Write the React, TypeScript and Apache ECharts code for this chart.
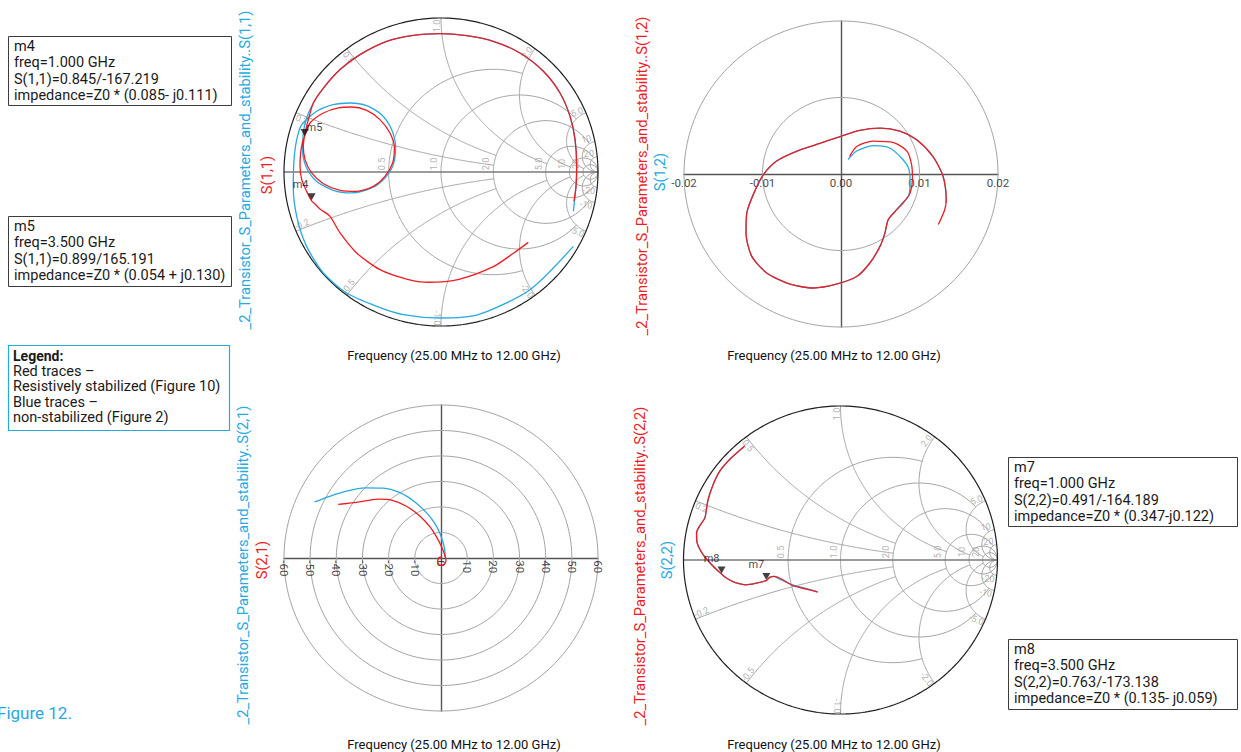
import React, { useEffect, useRef } from "react";
import * as echarts from "echarts";

type P = [number, number];

const RED = "#ee1d23";
const BLUE = "#27a9e1";
const GRID = "#a3a3a3";
const FONT = "Roboto, 'Liberation Sans', sans-serif";

// ---------------- data (reflection coefficients as [re, im]) ----------------
const s11Stabilized: P[] = [
  [0.556, -0.457], [0.461, -0.528], [0.333, -0.615], [0.121, -0.695], [-0.081, -0.716],
  [-0.219, -0.695], [-0.389, -0.634], [-0.537, -0.526], [-0.643, -0.396], [-0.707, -0.288],
  [-0.771, -0.24], [-0.805, -0.205], [-0.824, -0.187], [-0.856, -0.126], [-0.887, -0.05],
  [-0.898, 0.037], [-0.894, 0.123], [-0.881, 0.2], [-0.869, 0.23],
  [-0.834, 0.318], [-0.749, 0.383], [-0.654, 0.416], [-0.569, 0.422], [-0.473, 0.4],
  [-0.389, 0.34], [-0.325, 0.253], [-0.297, 0.156], [-0.308, 0.058], [-0.357, -0.028],
  [-0.431, -0.093], [-0.537, -0.126], [-0.643, -0.119], [-0.749, -0.076], [-0.824, -0.006],
  [-0.866, 0.08], [-0.877, 0.167], [-0.866, 0.253], [-0.845, 0.34],
  [-0.813, 0.448], [-0.749, 0.545], [-0.643, 0.665], [-0.516, 0.762], [-0.346, 0.848],
  [-0.176, 0.887], [-0.006, 0.898], [0.163, 0.885], [0.333, 0.848], [0.503, 0.773],
  [0.652, 0.654], [0.758, 0.513], [0.822, 0.361], [0.854, 0.21], [0.864, 0.037],
  [0.86, -0.093], [0.847, -0.19],
];
const s11NonStabilized: P[] = [
  [0.843, -0.483], [0.567, -0.764], [0.238, -0.926], [-0.006, -0.948], [-0.24, -0.926],
  [-0.41, -0.872], [-0.601, -0.786], [-0.749, -0.656], [-0.856, -0.483], [-0.919, -0.288],
  [-0.941, -0.093], [-0.936, 0.08], [-0.919, 0.21], [-0.887, 0.307],
  [-0.792, 0.394], [-0.686, 0.437], [-0.58, 0.448], [-0.473, 0.431], [-0.378, 0.372],
  [-0.314, 0.275], [-0.289, 0.167], [-0.304, 0.048], [-0.357, -0.039], [-0.442, -0.104],
  [-0.569, -0.136], [-0.686, -0.119], [-0.792, -0.061], [-0.856, 0.026], [-0.881, 0.123],
  [-0.877, 0.253], [-0.856, 0.351],
  [-0.813, 0.448], [-0.749, 0.545], [-0.643, 0.665], [-0.516, 0.762], [-0.346, 0.848],
  [-0.176, 0.887], [-0.006, 0.898], [0.163, 0.885], [0.333, 0.848], [0.503, 0.773],
  [0.652, 0.654], [0.758, 0.513], [0.822, 0.361], [0.854, 0.21], [0.864, 0.037],
  [0.86, -0.093], [0.843, -0.255],
];
const s12Stabilized: P[] = [
  [0.0011, 0.0023], [0.002, 0.0036], [0.0041, 0.0043], [0.0067, 0.0041], [0.0084, 0.003],
  [0.009, 0.0012], [0.0091, -0.0007], [0.0088, -0.0025], [0.0079, -0.0038], [0.0069, -0.0049],
  [0.006, -0.006], [0.0056, -0.0077], [0.005, -0.0094], [0.0037, -0.0116], [0.002, -0.0134],
  [-0.0006, -0.0144], [-0.0035, -0.0149], [-0.0065, -0.0144], [-0.0095, -0.0129], [-0.0114, -0.0107],
  [-0.0121, -0.0077], [-0.012, -0.0051], [-0.0111, -0.0025], [-0.0099, -0.0001], [-0.0082, 0.0017],
  [-0.0056, 0.003], [-0.0027, 0.004], [-0.0001, 0.0049], [0.0024, 0.0057], [0.005, 0.006],
  [0.0075, 0.0056], [0.0096, 0.0045], [0.0117, 0.0023], [0.013, -0.0003], [0.0134, -0.0034],
  [0.0132, -0.0047], [0.0124, -0.0066],
];
const s12NonStabilized: P[] = [
  [0.0009, 0.0019], [0.002, 0.003], [0.0041, 0.0037], [0.0062, 0.0034], [0.0077, 0.0021],
  [0.0086, 0.0008], [0.0088, -0.001], [0.0086, -0.0029], [0.0077, -0.0039], [0.0067, -0.0051],
  [0.006, -0.006], [0.0056, -0.0077], [0.005, -0.0094], [0.0037, -0.0116], [0.002, -0.0134],
  [-0.0006, -0.0144], [-0.0035, -0.0149], [-0.0065, -0.0144], [-0.0095, -0.0129], [-0.0114, -0.0107],
  [-0.0121, -0.0077], [-0.012, -0.0051], [-0.0111, -0.0025], [-0.0099, -0.0001], [-0.0082, 0.0017],
  [-0.0056, 0.003], [-0.0027, 0.004], [-0.0001, 0.0049], [0.0024, 0.0057], [0.005, 0.006],
  [0.0075, 0.0056], [0.0096, 0.0045], [0.0117, 0.0023], [0.013, -0.0003], [0.0134, -0.0034],
  [0.0134, -0.0038],
];
const s21Stabilized: P[] = [
  [-39.3, 21.0], [-32.3, 21.8], [-24.0, 23.1], [-18.9, 22.7], [-13.2, 20.3], [-8.0, 16.4],
  [-4.2, 12.2], [-1.7, 8.3], [0.26, 4.3], [1.5, 1.0], [1.9, -1.2], [1.1, -2.6], [-0.4, -2.8],
  [-1.3, -1.6], [-0.9, 0.0], [0.1, 0.4],
];
const s21NonStabilized: P[] = [
  [-48.3, 22.0], [-42.5, 24.2], [-36.1, 26.2], [-29.1, 27.5], [-22.1, 27.4], [-15.7, 25.6],
  [-10.0, 22.0], [-5.5, 17.7], [-2.3, 13.5], [-0.4, 9.6], [0.9, 5.6], [1.5, 2.4], [1.5, 0.4],
];
const s22Stabilized: P[] = [
  [-0.144, -0.208], [-0.218, -0.189], [-0.303, -0.167], [-0.367, -0.128], [-0.419, -0.106],
  [-0.451, -0.113], [-0.4725, -0.1338], [-0.536, -0.15], [-0.6, -0.161], [-0.674, -0.145],
  [-0.727, -0.117], [-0.7575, -0.0912], [-0.811, -0.041], [-0.875, 0.035], [-0.913, 0.111],
  [-0.917, 0.176], [-0.896, 0.223], [-0.864, 0.273], [-0.854, 0.328], [-0.843, 0.393],
  [-0.811, 0.49], [-0.769, 0.577], [-0.706, 0.653], [-0.61, 0.74],
];
const s22NonStabilized: P[] = [
  [-0.15, -0.206], [-0.229, -0.182], [-0.314, -0.158], [-0.388, -0.124], [-0.426, -0.106],
  [-0.451, -0.113], [-0.4725, -0.1338], [-0.536, -0.15], [-0.6, -0.161], [-0.674, -0.145],
  [-0.727, -0.117], [-0.7575, -0.0912], [-0.811, -0.041], [-0.875, 0.035], [-0.913, 0.111],
  [-0.917, 0.176], [-0.896, 0.223], [-0.864, 0.273], [-0.854, 0.328], [-0.843, 0.393],
  [-0.811, 0.49], [-0.769, 0.577], [-0.706, 0.653], [-0.61, 0.74],
];

const s11Markers = [
  { name: "m4", mag: 0.845, deg: -167.219 },
  { name: "m5", mag: 0.899, deg: 165.191 },
];
const s22Markers = [
  { name: "m7", mag: 0.491, deg: -164.189 },
  { name: "m8", mag: 0.763, deg: -173.138 },
];

const smithResistances = [0.5, 1, 2, 5, 10, 20];
const smithReactances = [0.2, 0.5, 1, 2, 5, 10, 20];
const s12Rings = [0.01, 0.02];
const s12Ticks = [-0.02, -0.01, 0, 0.01, 0.02];
const s21Rings = [10, 20, 30, 40, 50, 60];
const s21Ticks = [-60, -50, -40, -30, -20, -10, 0, 10, 20, 30, 40, 50, 60];

const m4Box = ["m4", "freq=1.000 GHz", "S(1,1)=0.845/-167.219", "impedance=Z0 * (0.085- j0.111)"];
const m5Box = ["m5", "freq=3.500 GHz", "S(1,1)=0.899/165.191", "impedance=Z0 * (0.054 + j0.130)"];
const m7Box = ["m7", "freq=1.000 GHz", "S(2,2)=0.491/-164.189", "impedance=Z0 * (0.347-j0.122)"];
const m8Box = ["m8", "freq=3.500 GHz", "S(2,2)=0.763/-173.138", "impedance=Z0 * (0.135- j0.059)"];
const legendLines = ["Red traces \u2013", "Resistively stabilized (Figure 10)", "Blue traces \u2013", "non-stabilized (Figure 2)"];
const freqLabel = "Frequency (25.00 MHz to 12.00 GHz)";

// --------------- layout helpers ---------------
const rLimit: Record<string, number> = { "0.5": 2, "1": 5, "2": 10, "5": 20, "10": Infinity, "20": Infinity };
const xLimit: Record<string, number> = { "0.2": 2, "0.5": 2, "1": 5, "2": 10, "5": 20, "10": Infinity, "20": Infinity };
const markerLabelOffset: Record<string, number[]> = {
  m4: [-11, -12], m5: [10, -5], m7: [-10, -12], m8: [-10, -12],
};

function gamma(r: number, x: number): P {
  const d = (r + 1) * (r + 1) + x * x;
  return [(r * r + x * x - 1) / d, (2 * x) / d];
}

function gridLine(gi: number, data: P[], color = GRID, width = 1, z = 1) {
  return {
    type: "line", xAxisIndex: gi, yAxisIndex: gi, data, symbol: "none", showSymbol: false,
    silent: true, clip: false, smooth: false, z,
    lineStyle: { color, width },
  };
}

function circle(R: number, n = 240): P[] {
  const pts: P[] = [];
  for (let i = 0; i <= n; i++) {
    const t = (2 * Math.PI * i) / n;
    pts.push([R * Math.cos(t), R * Math.sin(t)]);
  }
  return pts;
}

function smithGrid(gi: number, hw: number, hh: number) {
  const out: any[] = [];
  smithResistances.forEach((r) => {
    const tMax = Math.atan(rLimit[String(r)]);
    const pts: P[] = [];
    const n = 240;
    for (let i = 0; i <= n; i++) {
      const t = -tMax + (2 * tMax * i) / n;
      pts.push(gamma(r, Math.tan(t)));
    }
    out.push(gridLine(gi, pts));
  });
  smithReactances.forEach((x) => {
    [1, -1].forEach((s) => {
      const sMax = Math.atan(xLimit[String(x)]);
      const pts: P[] = [];
      const n = 200;
      for (let i = 0; i <= n; i++) {
        const u = (sMax * i) / n;
        pts.push(gamma(Math.tan(u), s * x));
      }
      out.push(gridLine(gi, pts));
    });
  });
  out.push(gridLine(gi, [[-1, 0], [1, 0]], "#7a7a7a", 1.6, 2));
  out.push(gridLine(gi, circle(1, 360), "#1e1e1e", 1.2, 2));

  const data: any[] = [];
  const shift = (gx: number, gy: number, dx: number, dy: number) => [gx + dx / hw, gy - dy / hh];
  smithResistances.forEach((r) => {
    const gx = (r - 1) / (r + 1);
    data.push({ name: r >= 10 ? String(r) : r.toFixed(1), value: shift(gx, 0, -7, -8), label: { rotate: 90 } });
  });
  smithReactances.forEach((x) => {
    [1, -1].forEach((s) => {
      const th = s * (Math.PI - 2 * Math.atan(x));
      const c = Math.cos(th);
      const sn = Math.sin(th);
      let dx = -c * 8;
      let dy = sn * 8;
      if (s > 0) { dx += -sn * 4; dy += -c * 4; } else { dx += sn * 4; dy += c * 4; }
      let deg = (th * 180) / Math.PI;
      if (deg > 90) deg -= 180;
      if (deg < -90) deg += 180;
      const txt = (s < 0 ? "-" : "") + (x >= 10 ? String(x) : x.toFixed(1));
      data.push({ name: txt, value: shift(c, sn, dx, dy), label: { rotate: deg } });
    });
  });
  out.push({
    type: "scatter", xAxisIndex: gi, yAxisIndex: gi, symbolSize: 1, silent: true, z: 3,
    itemStyle: { color: "rgba(0,0,0,0)" }, data,
    label: {
      show: true, position: "inside", formatter: "{b}", color: "#9c9c9c", fontSize: 9,
      fontFamily: FONT, align: "center", verticalAlign: "middle",
    },
  });
  return out;
}

function ringGrid(gi: number, rings: number[]) {
  return rings.map((R) => gridLine(gi, circle(R)));
}

function tickLabels(gi: number, ticks: number[], yShift: number, fmt: (v: number) => string, rotate: number, align: string) {
  return {
    type: "scatter", xAxisIndex: gi, yAxisIndex: gi, symbolSize: 1, silent: true, z: 4,
    itemStyle: { color: "rgba(0,0,0,0)" },
    data: ticks.map((v) => ({ name: fmt(v), value: [v, yShift] })),
    label: {
      show: true, position: "inside", formatter: "{b}", color: "#111", fontSize: 11.5,
      fontFamily: FONT, align, verticalAlign: "middle", rotate,
    },
  };
}

function trace(gi: number, data: P[], color: string, z: number, smooth = 0.25) {
  return {
    type: "line", xAxisIndex: gi, yAxisIndex: gi, data, symbol: "none", showSymbol: false,
    smooth, clip: false, z, lineStyle: { color, width: 1.3 },
  };
}

function markerSeries(gi: number, markers: { name: string; mag: number; deg: number }[]) {
  return {
    type: "scatter", xAxisIndex: gi, yAxisIndex: gi, symbol: "triangle", symbolRotate: 180,
    symbolSize: [8, 7], symbolOffset: [0, -4], z: 20, itemStyle: { color: "#111" },
    data: markers.map((m) => {
      const a = (m.deg * Math.PI) / 180;
      return {
        name: m.name, value: [m.mag * Math.cos(a), m.mag * Math.sin(a)],
        label: { offset: markerLabelOffset[m.name] },
      };
    }),
    label: { show: true, position: "inside", formatter: "{b}", color: "#111", fontSize: 11, fontFamily: FONT },
  };
}

function markerBox(x: number, y: number, w: number, h: number, lines: string[]) {
  return {
    type: "group",
    children: [
      { type: "rect", shape: { x, y, width: w, height: h }, style: { fill: "#fff", stroke: "#3c3c3c", lineWidth: 1 } },
      {
        type: "text", x: x + 5.5, y: y + 1.3,
        style: { text: lines.join("\n"), font: `14.5px ${FONT}`, fill: "#1a1a1a", lineHeight: 16.5, verticalAlign: "top" },
      },
    ],
  };
}

function vText(x: number, y: number, text: string, color: string, size = 14.7) {
  return {
    type: "text", x, y, rotation: Math.PI / 2,
    style: { text, font: `${size}px ${FONT}`, fill: color, align: "center", verticalAlign: "middle" },
  };
}

function hText(x: number, y: number, text: string) {
  return {
    type: "text", x, y,
    style: { text, font: `13px ${FONT}`, fill: "#111", align: "center", verticalAlign: "middle" },
  };
}

export default function App() {
  const ref = useRef<HTMLDivElement>(null);
  useEffect(() => {
    if (!ref.current) return;
    const chart = echarts.init(ref.current, undefined, { renderer: "svg" });
    const hidden = { show: false };
    const smithAxis = (gi: number) => ({ gridIndex: gi, type: "value", min: -1, max: 1, show: false });
    const polarAxis = (gi: number, lim: number) => ({
      gridIndex: gi, type: "value", min: -lim, max: lim,
      axisLine: { show: true, onZero: true, lineStyle: { color: "#555", width: 1.4 } },
      axisTick: hidden, splitLine: hidden, axisLabel: hidden,
    });

    const option: any = {
      animation: false,
      backgroundColor: "#fff",
      grid: [
        { left: 284, top: 18, width: 314, height: 308 },
        { left: 684, top: 21, width: 314, height: 306 },
        { left: 284, top: 405, width: 314, height: 306 },
        { left: 683.5, top: 406, width: 314, height: 308 },
      ],
      xAxis: [smithAxis(0), polarAxis(1, 0.02), polarAxis(2, 60), smithAxis(3)],
      yAxis: [smithAxis(0), polarAxis(1, 0.02), polarAxis(2, 60), smithAxis(3)],
      series: [
        ...smithGrid(0, 157, 154),
        ...ringGrid(1, s12Rings),
        ...ringGrid(2, s21Rings),
        ...smithGrid(3, 157, 154),
        tickLabels(1, s12Ticks, -0.0012, (v) => v.toFixed(2), 0, "center"),
        tickLabels(2, s21Ticks, -0.9, (v) => String(v), -90, "left"),
        trace(0, s11NonStabilized, BLUE, 5),
        trace(0, s11Stabilized, RED, 6),
        trace(1, s12NonStabilized, BLUE, 5),
        trace(1, s12Stabilized, RED, 6),
        trace(2, s21NonStabilized, BLUE, 5),
        trace(2, s21Stabilized, RED, 6),
        trace(3, s22NonStabilized, BLUE, 5),
        trace(3, s22Stabilized, RED, 6),
        markerSeries(0, s11Markers),
        markerSeries(3, s22Markers),
      ],
      graphic: [
        markerBox(8.5, 36.5, 223, 69, m4Box),
        markerBox(8.5, 216.5, 223, 70, m5Box),
        markerBox(1008.5, 457.5, 229, 69, m7Box),
        markerBox(1008.5, 639.5, 229, 70, m8Box),
        {
          type: "group",
          children: [
            { type: "rect", shape: { x: 8.5, y: 345.5, width: 221, height: 85 }, style: { fill: "#fff", stroke: BLUE, lineWidth: 1.2 } },
            { type: "text", x: 13, y: 348, style: { text: "Legend:", font: `bold 14px ${FONT}`, fill: "#1a1a1a", verticalAlign: "top", lineHeight: 15.5 } },
            { type: "text", x: 13, y: 363.5, style: { text: legendLines.join("\n"), font: `14.5px ${FONT}`, fill: "#1a1a1a", verticalAlign: "top", lineHeight: 15.5 } },
          ],
        },
        { type: "text", x: -3, y: 713, style: { text: "Figure 12.", font: `17px ${FONT}`, fill: BLUE, verticalAlign: "middle" } },
        vText(245, 170, "_2_Transistor_S_Parameters_and_stability..S(1,1)", BLUE),
        vText(267, 175, "S(1,1)", RED),
        vText(642, 176, "_2_Transistor_S_Parameters_and_stability..S(1,2)", RED),
        vText(660, 172, "S(1,2)", BLUE),
        vText(243, 565, "_2_Transistor_S_Parameters_and_stability..S(2,1)", BLUE),
        vText(262, 560, "S(2,1)", RED),
        vText(640, 566, "_2_Transistor_S_Parameters_and_stability..S(2,2)", RED),
        vText(667, 560, "S(2,2)", BLUE),
        hText(454, 355, freqLabel),
        hText(834, 355, freqLabel),
        hText(454, 744, freqLabel),
        hText(834, 744, freqLabel),
      ],
    };
    chart.setOption(option);
    return () => chart.dispose();
  }, []);
  return (
    <div
      ref={ref}
      style={{ position: "absolute", left: 0, top: 0, width: 1241, height: 752, background: "#fff" }}
    />
  );
}
